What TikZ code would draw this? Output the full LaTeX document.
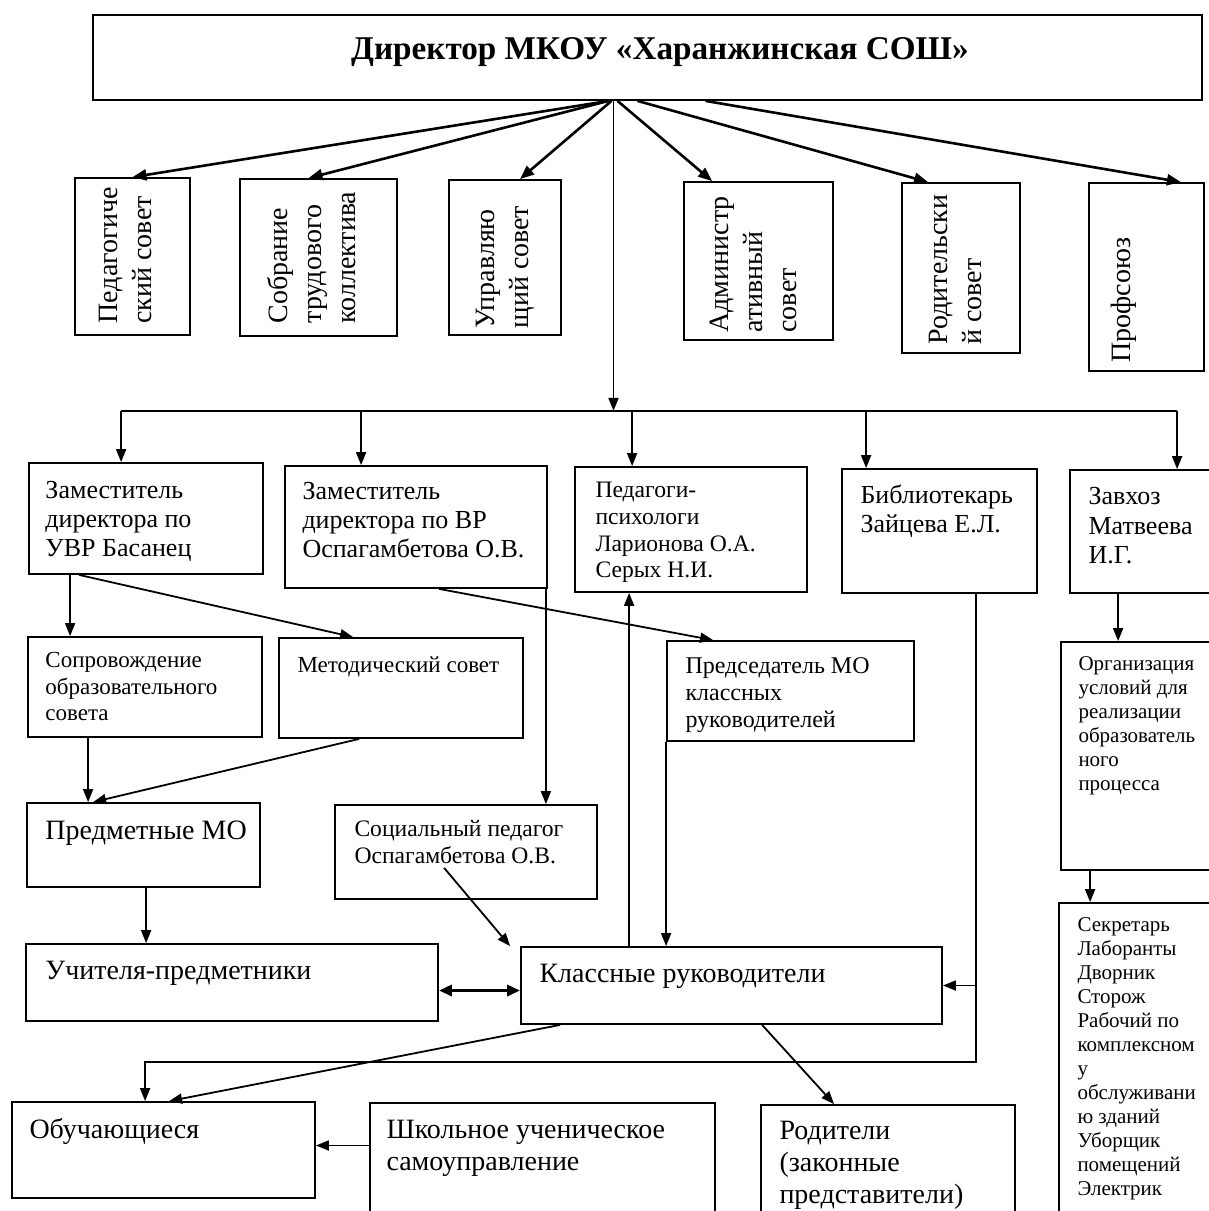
\documentclass[tikz,border=0pt]{standalone}
\usepackage{fontspec}
\setmainfont{Liberation Serif}
\usetikzlibrary{arrows.meta,fit}
\newcommand\setfs[2]{\fontsize{#1}{#2}\selectfont}

\begin{document}
\begin{tikzpicture}[x=0.5pt,y=-0.5pt,
      box/.style={draw,line width=0.9pt,inner sep=0pt},
      txt/.style={anchor=north west,align=left,inner sep=0pt},
      vtxt/.style={anchor=west,rotate=90,align=left,inner sep=0pt,font=\setfs{14}{17}},
      arr/.style={line width=0.9pt,-{Triangle[length=6.5pt,width=5pt]}},
      fan/.style={line width=1.3pt,-{Triangle[length=7pt,width=5.5pt]}},
      both/.style={line width=1.6pt,{Triangle[length=6.5pt,width=5.5pt]}-{Triangle[length=6.5pt,width=5.5pt]}}]
   \useasboundingbox (0,0) rectangle (1209,1211);
   \clip (0,0) rectangle (1209,1211);

   % director
   \node[box,fit={(93,15) (1202,100)}] (dir) {};
   \node[font=\bfseries\setfs{16.6}{20}] (dirtxt) at (660,52) {Директор МКОУ «Харанжинская СОШ»};

   % councils
   \node[box,fit={(75,178) (190,335)}] (ped) {};
   \node[vtxt] at ([shift={(-3.5pt,6pt)}]ped.south) {Педагогиче\\ский совет};
   \node[box,fit={(240,179) (397,336)}] (sob) {};
   \node[vtxt] at ([shift={(-3.5pt,6.5pt)}]sob.south) {Собрание\\трудового\\коллектива};
   \node[box,fit={(449,180) (561,335)}] (upr) {};
   \node[vtxt] at ([shift={(0pt,3.5pt)}]upr.south) {Управляю\\щий совет};
   \node[box,fit={(684,182) (833,340)}] (adm) {};
   \node[vtxt] at ([shift={(-2.5pt,4pt)}]adm.south) {Администр\\ативный\\совет};
   \node[box,fit={(902,183) (1020,353)}] (rod) {};
   \node[vtxt] at ([shift={(-3pt,4.5pt)}]rod.south) {Родительски\\й совет};
   \node[box,fit={(1089,183) (1204,371)}] (prof) {};
   \node[vtxt] at ([shift={(-11.5pt,4.5pt)}]prof.south) {Профсоюз};

   \draw[fan] ([xshift=-19.5pt]dir.south) -- (ped.north);
   \draw[fan] ([xshift=-19.5pt]dir.south) -- ([xshift=-5pt]sob.north);
   \draw[fan] ([xshift=-18pt]dir.south) -- ([xshift=7.5pt]upr.north);
   \draw[fan] ([xshift=-15pt]dir.south) -- ([xshift=14.5pt]adm.north west);
   \draw[fan] ([xshift=-5pt]dir.south) -- ([xshift=13.5pt]rod.north west);
   \draw[fan] ([xshift=29pt]dir.south) -- ([xshift=-12pt]prof.north east);

   % deputies and staff
   \node[box,fit={(29,463) (263,574)}] (zuvr) {};
   \node[txt,font=\setfs{13}{14.5}] at ([shift={(8.5pt,-9.5pt)}]zuvr.north west) {Заместитель\\директора по\\УВР Басанец};
   \node[box,fit={(285,466) (547,588)}] (zvr) {};
   \node[txt,font=\setfs{13}{14.5}] at ([shift={(9pt,-8.5pt)}]zvr.north west) {Заместитель\\директора по ВР\\Оспагамбетова О.В.};
   \node[box,fit={(575,467) (807,592)}] (psy) {};
   \node[txt,font=\setfs{11.8}{13.3}] at ([shift={(10.5pt,-8pt)}]psy.north west) {Педагоги-\\психологи\\Ларионова О.А.\\Серых Н.И.};
   \node[box,fit={(842,469) (1037,593)}] (bib) {};
   \node[txt,font=\setfs{13}{14.5}] at ([shift={(9.5pt,-8pt)}]bib.north west) {Библиотекарь\\Зайцева Е.Л.};
   \node[box,fit={(1070,470) (1220,593)}] (zav) {};
   \node[txt,font=\setfs{13}{14.7}] at ([shift={(9.5pt,-9pt)}]zav.north west) {Завхоз\\Матвеева\\И.Г.};

   \coordinate (hub) at ([xshift=-17pt]dir.south);
   \coordinate (bus) at ([yshift=-155pt]hub);
   \coordinate (zuvr-in) at ([xshift=46.5pt]zuvr.north west);
   \coordinate (zvr-in) at ([xshift=38.5pt]zvr.north west);
   \coordinate (psy-in) at ([xshift=29pt]psy.north west);
   \coordinate (bib-in) at ([xshift=12.5pt]bib.north west);
   \coordinate (zav-in) at ([xshift=54pt]zav.north west);
   \draw[arr] (hub) -- (bus);
   \draw[line width=0.9pt] (bus -| zuvr-in) -- (bus -| zav-in);
   \draw[arr] (bus -| zuvr-in) -- (zuvr-in);
   \draw[arr] (bus -| zvr-in) -- (zvr-in);
   \draw[arr] (bus -| psy-in) -- (psy-in);
   \draw[arr] (bus -| bib-in) -- (bib-in);
   \draw[arr] (bus -| zav-in) -- (zav-in);

   % third row
   \node[box,fit={(28,637) (262,737)}] (sopr) {};
   \node[txt,font=\setfs{11.5}{13.25}] at ([shift={(9pt,-8pt)}]sopr.north west) {Сопровождение\\образовательного\\совета};
   \node[box,fit={(279,638) (523,738)}] (met) {};
   \node[txt,font=\setfs{11.5}{13.25}] at ([shift={(9.5pt,-9.5pt)}]met.north west) {Методический совет};
   \node[box,fit={(667,641) (914,741)}] (pred) {};
   \node[txt,font=\setfs{12}{13.5}] at ([shift={(9.5pt,-8.5pt)}]pred.north west) {Председатель МО\\классных\\руководителей};
   \node[box,fit={(1061,642) (1220,870)}] (org) {};
   \node[txt,font=\setfs{10.5}{12}] at ([shift={(9pt,-7.5pt)}]org.north west) {Организация\\условий для\\реализации\\образователь\\ного\\процесса};

   \coordinate (zuvr-a) at ([xshift=21pt]zuvr.south west);
   \coordinate (zuvr-b) at ([xshift=25.5pt]zuvr.south west);
   \coordinate (zvr-a) at ([xshift=77.5pt]zvr.south west);
   \coordinate (zvr-b) at ([xshift=-1pt]zvr.south east);
   \coordinate (zav-out) at ([xshift=24.5pt]zav.south west);
   \draw[arr] (zuvr-a) -- (zuvr-a |- sopr.north);
   \draw[arr] (zuvr-b) -- ([xshift=37.5pt]met.north west);
   \draw[arr] (zvr-a) -- ([xshift=23.5pt]pred.north west);
   \draw[arr] (zav-out) -- (zav-out |- org.north);

   % fourth row
   \node[box,fit={(27,803) (260,887)}] (pmo) {};
   \node[txt,font=\setfs{14}{16}] at ([shift={(9.5pt,-9pt)}]pmo.north west) {Предметные МО};
   \node[box,fit={(335,805) (597,899)}] (soc) {};
   \node[txt,font=\setfs{11.8}{13.5}] at ([shift={(10pt,-8pt)}]soc.north west) {Социальный педагог\\Оспагамбетова О.В.};
   \node[box,fit={(1059,903) (1220,1220)}] (sek) {};
   \node[txt,font=\setfs{10.5}{12}] at ([shift={(9.5pt,-7.5pt)}]sek.north west) {Секретарь\\Лаборанты\\Дворник\\Сторож\\Рабочий по\\комплексном\\у\\обслуживани\\ю зданий\\Уборщик\\помещений\\Электрик};

   \coordinate (sopr-out) at ([xshift=30.5pt]sopr.south west);
   \coordinate (org-out) at ([xshift=15pt]org.south west);
   \draw[arr] (sopr-out) -- (sopr-out |- pmo.north);
   \draw[arr] ([xshift=40.5pt]met.south west) -- ([xshift=33.5pt]pmo.north west);
   \draw[arr] (zvr-b) -- (zvr-b |- soc.north);
   \draw[arr] (org-out) -- (org-out |- sek.north);

   % teachers
   \node[box,fit={(26,944) (438,1021)}] (uch) {};
   \node[txt,font=\setfs{14}{16}] at ([shift={(10pt,-9pt)}]uch.north west) {Учителя-предметники};
   \node[box,fit={(521,947) (942,1024)}] (kl) {};
   \node[txt,font=\setfs{14}{16}] at ([shift={(9.5pt,-9pt)}]kl.north west) {Классные руководители};

   \coordinate (pmo-out) at ([xshift=60pt]pmo.south west);
   \coordinate (kl-up) at ([xshift=54.5pt]kl.north west);
   \coordinate (uch-r) at ([yshift=-4pt]uch.east);
   \draw[arr] (pmo-out) -- (pmo-out |- uch.north);
   \draw[arr] ([shift={(55pt,16pt)}]soc.south west) -- ([xshift=-5pt]kl.north west);
   \draw[arr] (kl-up) -- (kl-up |- psy.south);
   \draw[arr] (pred.south west) -- (pred.south west |- kl.north);
   \draw[both] (uch-r) -- (uch-r -| kl.west);

   % pupils and parents
   \node[box,fit={(12,1102) (315,1198)}] (obu) {};
   \node[txt,font=\setfs{14}{16}] at ([shift={(9pt,-8.5pt)}]obu.north west) {Обучающиеся};
   \node[box,fit={(370,1103) (715,1220)}] (shk) {};
   \node[txt,font=\setfs{14}{16}] at ([shift={(8.5pt,-9pt)}]shk.north west) {Школьное ученическое\\самоуправление};
   \node[box,fit={(761,1105) (1015,1220)}] (par) {};
   \node[txt,font=\setfs{14}{16}] at ([shift={(9.5pt,-8.5pt)}]par.north west) {Родители\\(законные\\представители)};

   \coordinate (bib-out) at ([xshift=67.5pt]bib.south west);
   \coordinate (obu-in) at ([xshift=67pt]obu.north west);
   \coordinate (shk-l) at ([yshift=8pt]shk.west);
   \draw[arr] (bib-out) |- ([yshift=19.5pt]obu-in) -- (obu-in);
   \draw[arr] (bib-out |- kl.east) -- (kl.east);
   \draw[arr] ([xshift=20pt]kl.south west) -- ([xshift=79pt]obu.north west);
   \draw[arr] ([xshift=121pt]kl.south west) -- ([xshift=37pt]par.north west);
   \draw[arr] (shk-l) -- (shk-l -| obu.east);
\end{tikzpicture}
\end{document}
